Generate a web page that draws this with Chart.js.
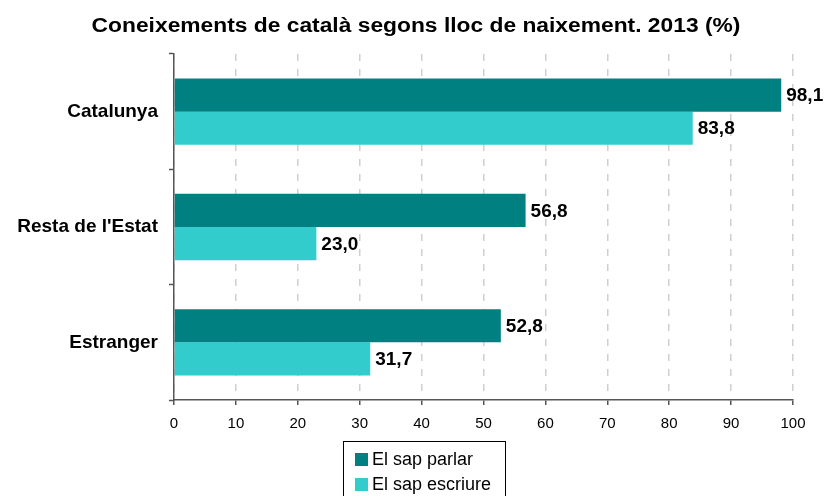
<!DOCTYPE html>
<html>
<head>
<meta charset="utf-8">
<script src="https://cdn.jsdelivr.net/npm/chart.js@4/dist/chart.umd.min.js"></script>
<style>
html,body{margin:0;padding:0;background:#fff;}
#wrap{width:827px;height:496px;position:relative;}
</style>
</head>
<body>
<div id="wrap"><canvas id="c" width="827" height="496"></canvas></div>
<script>
const categories = ["Catalunya", "Resta de l'Estat", "Estranger"];
const parlar = [98.1, 56.8, 52.8];
const escriure = [83.8, 23.0, 31.7];
const seriesNames = ["El sap parlar", "El sap escriure"];
const xTicks = [0,10,20,30,40,50,60,70,80,90,100];
const titleText = 'Coneixements de català segons lloc de naixement. 2013 (%)';

const FONT = "'Liberation Sans', Arial, sans-serif";

const stretchedTitle = {
  id: 'stretchedTitle',
  afterDraw(chart) {
    const ctx = chart.ctx;
    ctx.save();
    ctx.font = "bold 20px " + FONT;
    ctx.fillStyle = '#000';
    ctx.textAlign = 'center';
    ctx.textBaseline = 'middle';
    ctx.translate(416, 26);
    ctx.scale(1.14, 1);
    ctx.fillText(titleText, 0, 0);
    ctx.restore();
  }
};

const valueLabels = {
  id: 'valueLabels',
  afterDatasetsDraw(chart) {
    const ctx = chart.ctx;
    ctx.save();
    ctx.font = "bold 19px " + FONT;
    ctx.fillStyle = '#000';
    ctx.textAlign = 'left';
    ctx.textBaseline = 'middle';
    chart.data.datasets.forEach((ds, i) => {
      const meta = chart.getDatasetMeta(i);
      meta.data.forEach((el, j) => {
        const v = ds.data[j];
        ctx.fillText(v.toFixed(1).replace('.', ','), el.x + 5, el.y + 1);
      });
    });
    ctx.restore();
  }
};

const boxLegend = {
  id: 'boxLegend',
  afterDraw(chart) {
    const ctx = chart.ctx;
    ctx.save();
    const x0 = 343, y0 = 441, w = 162, h = 60;
    ctx.strokeStyle = '#000';
    ctx.lineWidth = 1;
    ctx.strokeRect(x0 + 0.5, y0 + 0.5, w, h);
    ctx.font = "18px " + FONT;
    ctx.textBaseline = 'middle';
    ctx.textAlign = 'left';
    chart.data.datasets.forEach((ds, i) => {
      const cy = 459 + i * 25;
      ctx.fillStyle = ds.backgroundColor;
      ctx.fillRect(355, cy - 6, 13, 13);
      ctx.fillStyle = '#000';
      ctx.fillText(ds.label, 372, cy + 1);
    });
    ctx.restore();
  }
};

new Chart(document.getElementById('c'), {
  type: 'bar',
  data: {
    labels: categories,
    datasets: [
      { label: seriesNames[0], data: parlar, backgroundColor: '#008080' },
      { label: seriesNames[1], data: escriure, backgroundColor: '#33CCCC' }
    ]
  },
  options: {
    indexAxis: 'y',
    responsive: false,
    animation: false,
    devicePixelRatio: 1,
    layout: { padding: { top: 54, right: 34, bottom: 0, left: 0 } },
    datasets: { bar: { categoryPercentage: 0.575, barPercentage: 1.0, borderWidth: 0 } },
    plugins: {
      legend: { display: false },
      tooltip: { enabled: false },
      title: { display: false }
    },
    scales: {
      x: {
        min: 0, max: 100,
        afterBuildTicks(axis) { axis.ticks = xTicks.map(v => ({ value: v })); },
        afterFit(axis) { axis.height = 96; },
        border: { display: true, color: '#555', width: 1.5, dash: [7, 8] },
        grid: {
          color: '#cfcfcf',
          lineWidth: 1.5,
          drawTicks: true,
          tickLength: 5,
          tickColor: '#555',
          tickBorderDash: [],
          tickWidth: 1.5
        },
        ticks: {
          color: '#000',
          padding: 10,
          font: { family: FONT, size: 15 },
          maxRotation: 0
        }
      },
      y: {
        afterFit(axis) { axis.width = 174; },
        border: { display: true, color: '#555', width: 1.5 },
        grid: {
          offset: true,
          drawOnChartArea: false,
          drawTicks: true,
          tickLength: 5,
          tickColor: '#555',
          tickWidth: 1.5
        },
        ticks: {
          color: '#000',
          padding: 11,
          font: { family: FONT, size: 19, weight: 'bold' }
        }
      }
    }
  },
  plugins: [stretchedTitle, valueLabels, boxLegend]
});
</script>
</body>
</html>
